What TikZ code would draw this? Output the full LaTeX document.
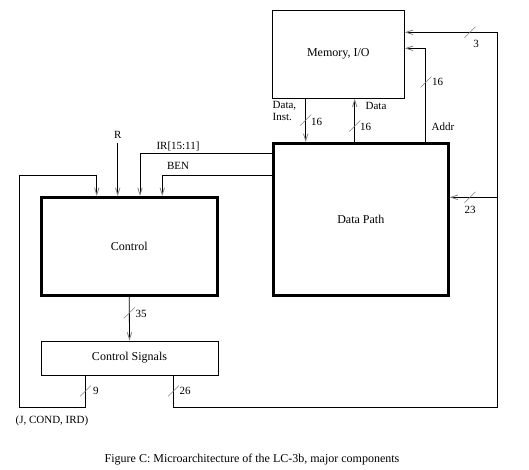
\documentclass[tikz,border=0pt]{standalone}
\usepackage{fontspec}
\setmainfont{Liberation Serif}
\usetikzlibrary{arrows.meta}

\begin{document}
\begin{tikzpicture}[
    x=1pt, y=-1pt,
    >={Straight Barb[length=7pt,width=4.5pt,color=gray]},
    box/.style={
        draw,
        line width=0.8pt,
        font=\fontsize{12}{14}\selectfont
    },
    heavy/.style={box, line width=3pt},
    lbl/.style={font=\fontsize{11}{12}\selectfont, inner sep=1pt},
    bus/.style={line width=0.8pt},
    busmark/.pic={\draw[gray, line width=0.5pt] (-5.5,5.5) -- (5.5,-5.5);}
]
    \useasboundingbox (0,0) rectangle (529,470);

    \node[box, minimum width=132pt, minimum height=88pt] (mem) at (338.3,54.3) {Memory, I/O};
    \node[heavy, minimum width=174.5pt, minimum height=151.5pt] (dp) at (360.75,219.25) {Data Path};
    \node[heavy, minimum width=175.5pt, minimum height=97.5pt] (ctrl) at (129.25,246.25) {Control};
    \node[box, minimum width=177pt, minimum height=34pt] (csig) at (129.5,358) {Control Signals};

    % memory <-> data path
    \draw[bus, ->] ([xshift=-32.6pt]mem.south) -- ([xshift=-32.6pt]mem.south |- dp.north);
    \draw[bus, ->] ([xshift=16.4pt]mem.south |- dp.north) -- ([xshift=16.4pt]mem.south);
    \draw[bus, ->] ([xshift=65pt]dp.north) |- ([yshift=6pt]mem.east);

    % control -> control signals
    \draw[bus, ->] (ctrl.south) -- (csig.north);

    % feedback from control signals
    \coordinate (loopL) at (19.6,175);
    \coordinate (busR) at (497.5,32.3);
    \coordinate (tap) at (497.5,197.3);
    \draw[bus, ->] ([xshift=-44pt]csig.south) -- ++(0,32) -| (loopL) -| ([xshift=-32.5pt]ctrl.north);
    \draw[bus, ->] ([xshift=44pt]csig.south) -- ++(0,32) -| (busR) -- ([yshift=22pt]mem.east);
    \draw[bus, ->] (tap) -- (tap -| dp.east);

    % inputs to control
    \node[lbl] (rin) at (117.7,134.5) {R};
    \draw[bus, ->] ([yshift=-4pt]rin.south) -- (rin |- ctrl.north);
    \draw[bus, ->] ([yshift=-11.3pt]dp.north west) -| ([xshift=10.75pt]ctrl.north);
    \draw[bus, ->] ([yshift=-33.7pt]dp.north west) -| ([xshift=33pt]ctrl.north);

    % bus widths
    \pic at (305.7,120) {busmark};
    \pic at (354.7,126) {busmark};
    \pic at (426,82) {busmark};
    \pic at (470,32.3) {busmark};
    \pic at (470,197.3) {busmark};
    \pic at (129.25,313) {busmark};
    \pic at (85.5,391) {busmark};
    \pic at (173.5,391) {busmark};

    \node[lbl, anchor=west] (w1) at (310,122) {16};
    \node[lbl, anchor=west] (w2) at (359,127) {16};
    \node[lbl, anchor=west] (w3) at (431,82) {16};
    \node[lbl] (w4) at (476,44) {3};
    \node[lbl] (w5) at (470,210) {23};
    \node[lbl, anchor=west] (w6) at (134.5,314) {35};
    \node[lbl, anchor=west] (w7) at (92,391) {9};
    \node[lbl, anchor=west] (w8) at (178.5,391) {26};

    % signal names
    \node[lbl, anchor=north west, align=left] (dinst) at (271.5,100) {Data,\\Inst.};
    \node[lbl] (dout) at (376,105.5) {Data};
    \node[lbl] (addr) at (443,127) {Addr};
    \node[lbl] (ir) at (178,146) {IR[15:11]};
    \node[lbl] (ben) at (178,166) {BEN};
    \node[lbl] (jcond) at (52,421) {(J, COND, IRD)};

    \node[font=\fontsize{12}{14}\selectfont] (cap) at (252,460) {Figure C: Microarchitecture of the LC-3b, major components};
\end{tikzpicture}
\end{document}
